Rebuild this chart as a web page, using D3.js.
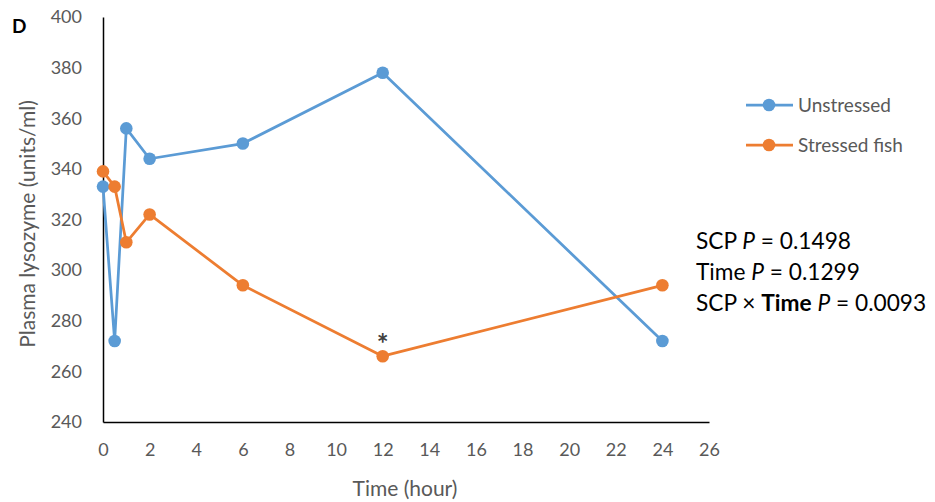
<!DOCTYPE html>
<html><head><meta charset="utf-8">
<script src="https://cdn.jsdelivr.net/npm/d3@7"></script>
<style>body{margin:0;background:#fff}svg{display:block}</style>
</head><body>
<svg id="c" width="935" height="502"></svg>
<script>
const times = [0, 0.5, 1, 2, 6, 12, 24];
const unstressed = [333, 272, 356, 344, 350, 378, 272];
const stressed = [339, 333, 311, 322, 294, 266, 294];
const seriesNames = ["Unstressed", "Stressed fish"];
const seriesColors = ["#5B9BD5", "#ED7D31"];
const xTicks = [0,2,4,6,8,10,12,14,16,18,20,22,24,26];
const yTicks = [240,260,280,300,320,340,360,380,400];
const annotations = [
  [["SCP ",""],["P","i"],[" = 0.1498",""]],
  [["Time ",""],["P","i"],[" = 0.1299",""]],
  [["SCP × ",""],["Time","b"],[" ",""],["P","i"],[" = 0.0093",""]]
];

const svg = d3.select("#c");
const font = "Lato, 'Open Sans', sans-serif";
const x = d3.scaleLinear().domain([0,26]).range([103,709]);
const y = d3.scaleLinear().domain([240,400]).range([422,17]);

// axes
const xa = svg.append("g").attr("transform","translate(0,422)")
  .call(d3.axisBottom(x).tickValues(xTicks).tickSize(0).tickPadding(21));
const ya = svg.append("g").attr("transform","translate(103,0)")
  .call(d3.axisLeft(y).tickValues(yTicks).tickSize(0).tickPadding(21));
[xa,ya].forEach(a=>{
  a.select(".domain").attr("stroke","#000").attr("stroke-width",1.5);
  a.selectAll("text").attr("fill","#595959").style("font-family",font).style("font-size","18px");
});

// series
const data = [unstressed, stressed];
const line = d3.line().x((d,i)=>x(times[i])).y(d=>y(d));
data.forEach((vals,k)=>{
  svg.append("path").datum(vals).attr("d",line).attr("fill","none")
    .attr("stroke",seriesColors[k]).attr("stroke-width",2.75).attr("stroke-linejoin","round");
});
data.forEach((vals,k)=>{
  svg.append("g").selectAll("circle").data(vals).join("circle")
    .attr("cx",(d,i)=>x(times[i])).attr("cy",d=>y(d)).attr("r",6.3)
    .attr("fill",seriesColors[k]);
});

// asterisk
svg.append("text").attr("x",x(12)).attr("y",y(stressed[5])-2).attr("text-anchor","middle")
  .style("font-family",font).style("font-size","28px").style("font-weight","bold").attr("fill","#404040").text("*");

// axis titles
svg.append("text").attr("x",405).attr("y",496).attr("text-anchor","middle")
  .style("font-family",font).style("font-size","21px").attr("fill","#595959").text("Time (hour)");
svg.append("text").attr("transform","translate(35,224) rotate(-90)").attr("text-anchor","middle")
  .style("font-family",font).style("font-size","21px").attr("fill","#595959").text("Plasma lysozyme (units/ml)");

// panel label
svg.append("text").attr("x",12).attr("y",33).style("font-family",font).style("font-size","19px")
  .style("font-weight","bold").attr("fill","#000").text("D");

// legend
seriesNames.forEach((n,k)=>{
  const ly = 105 + k*40;
  svg.append("line").attr("x1",746).attr("x2",793).attr("y1",ly).attr("y2",ly)
    .attr("stroke",seriesColors[k]).attr("stroke-width",2.75);
  svg.append("circle").attr("cx",769).attr("cy",ly).attr("r",6.3).attr("fill",seriesColors[k]);
  svg.append("text").attr("x",798).attr("y",ly+7).style("font-family",font).style("font-size","19px")
    .attr("fill","#595959").text(n);
});

// stats annotation
annotations.forEach((parts,i)=>{
  const t = svg.append("text").attr("x",696).attr("y",249+i*31)
    .style("font-family",font).style("font-size","22.7px").attr("fill","#000");
  parts.forEach(([s,st])=>{
    const ts = t.append("tspan").text(s);
    if(st==="i") ts.style("font-style","italic");
    if(st==="b") ts.style("font-weight","bold");
  });
});
</script>
</body></html>
